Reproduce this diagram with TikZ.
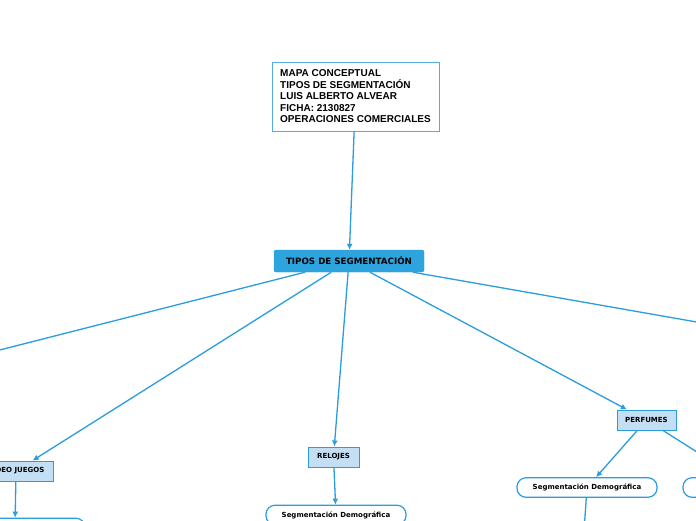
\documentclass[tikz,border=0pt]{standalone}
\usepackage{fontspec}
\newfontfamily\vfont{DejaVu Sans}
\newfontfamily\afont{Liberation Sans}
\usepackage{tikz}
\usetikzlibrary{arrows.meta,calc}
\definecolor{mapblue}{RGB}{41,157,222}
\definecolor{mainfill}{RGB}{45,164,222}
\definecolor{leaffill}{RGB}{196,222,244}
\definecolor{titleline}{RGB}{85,172,226}

\begin{document}
\begin{tikzpicture}[x=1pt, y=-1pt, >={Latex[length=6pt,width=6pt]},
  link/.style={->, draw=mapblue, line width=1.3pt},
  topic/.style={draw=mapblue, line width=1pt, fill=leaffill, minimum height=20pt, inner sep=0pt, font=\vfont\bfseries\fontsize{7}{8}\selectfont},
  pill/.style={draw=mapblue, line width=1.2pt, fill=white, rounded corners=9pt, minimum width=140pt, minimum height=19.5pt, inner sep=0pt, font=\vfont\bfseries\fontsize{7}{8}\selectfont}]
\useasboundingbox (0,0) rectangle (696,520);
\clip (0,0) rectangle (696,520);
\fill[white] (0,0) rectangle (696,520);
% title
\node[draw=titleline, line width=0.8pt, fill=white, minimum width=167pt, minimum height=69pt, align=left, inner sep=0pt,
  font=\afont\bfseries\fontsize{10}{11.5}\selectfont] (title) at (355.5,96.5)
  {MAPA CONCEPTUAL\\TIPOS DE SEGMENTACIÓN\\LUIS ALBERTO ALVEAR\\FICHA: 2130827\\OPERACIONES COMERCIALES};
% central topic
\node[fill=mainfill, draw=mapblue, rounded corners=2pt, minimum width=150pt, minimum height=22pt, inner sep=0pt,
  font=\vfont\bfseries\fontsize{8.7}{10}\selectfont] (main) at (349,261) {TIPOS DE SEGMENTACIÓN};
% main topics
\node[topic, minimum width=75pt] (vj) at (16,471) {VIDEO JUEGOS};
\node[topic, minimum width=51pt] (relojes) at (333.5,457) {RELOJES};
\node[topic, minimum width=59pt] (perfumes) at (646.5,420) {PERFUMES};
% subtopics
\node[pill] (vjseg) at (15,528) {};
\node[pill] (relseg) at (336,515) {Segmentación Demográfica};
\node[pill] (perseg) at (587,487.5) {Segmentación Demográfica};
\node[pill] (perseg2) at (753,487.5) {};
% branches leaving the picture
\coordinate (offleft) at (-40,360.1);
\coordinate (offright) at (740,329.6);
\coordinate (offdown) at (582,560);
% links
\draw[link] (title) -- (main);
\draw[link] (main) -- (offleft);
\draw[link] (main) -- (vj);
\draw[link] (main) -- (relojes);
\draw[link] (main) -- (perfumes);
\draw[link] (main) -- (offright);
\draw[link] (vj) -- (vjseg);
\draw[link] (relojes) -- (relseg);
\draw[link] (perfumes) -- (perseg);
\draw[link] (perfumes) -- (perseg2);
\draw[link] (perseg) -- (offdown);
\end{tikzpicture}
\end{document}
